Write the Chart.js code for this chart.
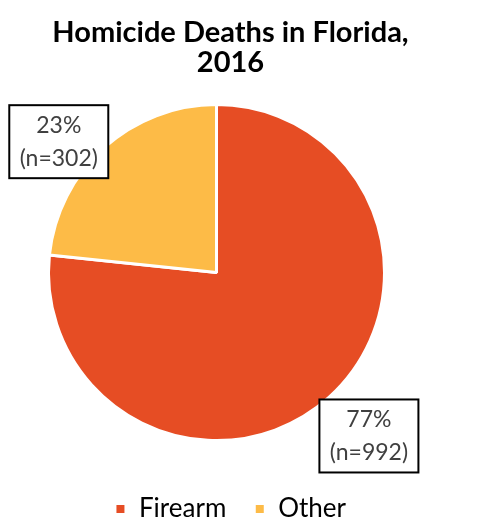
<!DOCTYPE html>
<html>
<head>
<meta charset="utf-8">
<script src="https://cdn.jsdelivr.net/npm/chart.js@4"></script>
<style>
  html, body { margin: 0; padding: 0; background: #fff; }
  #wrap { width: 492px; height: 522px; }
</style>
</head>
<body>
<div id="wrap"><canvas id="pieChart" width="492" height="522"></canvas></div>
<script>
const titleLines = ["Homicide Deaths in Florida,", "2016"];
const categories = ["Firearm", "Other"];
const deaths     = [992, 302];
const colors     = ["#E64D24", "#FDBB47"];
// where each boxed label sits: multiple of radius, and turn away from slice middle (deg)
const labelDist  = [1.33, 1.22];
const labelTurn  = [-1, -8.3];

const FONT = "Lato, 'Open Sans', sans-serif";

// pie sits a bit left of the title/legend centre in the original
const pieShift = {
  id: 'pieShift',
  afterLayout(chart) {
    const a = chart.chartArea;
    a.left  -= 14;
    a.right -= 14;
    a.top    -= 4;
    a.bottom -= 4;
  }
};

// boxed "77% (n=992)" labels
const boxLabels = {
  id: 'boxLabels',
  afterDatasetsDraw(chart) {
    const ctx = chart.ctx;
    const meta = chart.getDatasetMeta(0);
    const total = deaths.reduce((a, b) => a + b, 0);
    meta.data.forEach((arc, i) => {
      const mid = (arc.startAngle + arc.endAngle) / 2 + labelTurn[i] * Math.PI / 180;
      const r = arc.outerRadius * labelDist[i];
      const cx = arc.x + Math.cos(mid) * r;
      const cy = arc.y + Math.sin(mid) * r;
      const w = 99, h = 73;
      ctx.save();
      ctx.fillStyle = '#fff';
      ctx.fillRect(cx - w / 2, cy - h / 2, w, h);
      ctx.strokeStyle = '#000';
      ctx.lineWidth = 2;
      ctx.strokeRect(cx - w / 2, cy - h / 2, w, h);
      ctx.fillStyle = '#404040';
      ctx.font = '23px ' + FONT;
      ctx.textAlign = 'center';
      ctx.textBaseline = 'middle';
      const pct = Math.round(deaths[i] / total * 100) + '%';
      ctx.fillText(pct, cx, cy - 16);
      ctx.fillText('(n=' + deaths[i] + ')', cx, cy + 17);
      ctx.restore();
    });
  }
};

new Chart(document.getElementById('pieChart'), {
  type: 'pie',
  data: {
    labels: categories,
    datasets: [{
      data:            deaths,
      backgroundColor: colors,
      borderColor:     '#fff',
      borderWidth:     3,
      radius:          168,
    }]
  },
  options: {
    responsive: false,
    animation: false,
    layout: { padding: { left: 0, right: 31, top: 0, bottom: -10 } },
    plugins: {
      title: {
        display: true,
        text: titleLines,
        color: '#000',
        font: { family: FONT, size: 29, weight: 'bold', lineHeight: 1.02 },
        padding: { top: 18, bottom: 8 }
      },
      legend: {
        position: 'bottom',
        labels: {
          color: '#000',
          font: { family: FONT, size: 26 },
          boxWidth: 11,
          boxHeight: 11,
          padding: 28
        }
      },
      tooltip: { enabled: false }
    }
  },
  plugins: [pieShift, boxLabels]
});
</script>
</body>
</html>
